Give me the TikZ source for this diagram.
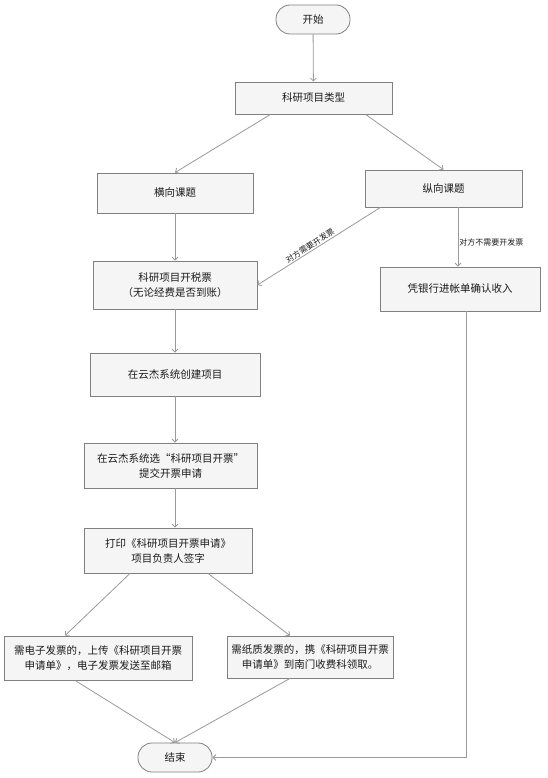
\documentclass[tikz,border=0pt]{standalone}
\usepackage{fontspec}
\setmainfont{Noto Sans CJK SC}
\usetikzlibrary{arrows.meta}

\definecolor{flowcolor0001}{RGB}{245,245,245}
\definecolor{flowcolor0002}{RGB}{128,128,128}
\definecolor{flowcolor0003}{RGB}{153,153,153}
\definecolor{flowcolor0004}{RGB}{26,26,26}

\begin{document}
\begin{tikzpicture}[yscale=-1
,pstyle0/.style={draw=flowcolor0002,fill=flowcolor0001,line width=0.8pt,rounded corners=14pt,minimum width=74pt,minimum height=29pt,font=\fontsize{10.5pt}{15pt}\selectfont,text=flowcolor0004}
,pstyle1/.style={draw=flowcolor0002,fill=flowcolor0001,line width=0.8pt,align=center,inner sep=1pt,font=\fontsize{10.5pt}{15pt}\selectfont,text=flowcolor0004}
,pstyle2/.style={draw=flowcolor0003,line width=0.8pt,-{Straight Barb[length=3pt,width=6pt]}}
,pstyle3/.style={font=\fontsize{8pt}{10pt}\selectfont,text=flowcolor0004,inner sep=1pt}
]
\useasboundingbox (0pt,0pt) rectangle (548pt,778pt);
\node[pstyle0] (start) at (313pt,19.5pt) {开始};
\node[pstyle1,minimum width=157pt,minimum height=32pt] (type) at (313.5pt,98pt) {科研项目类型};
\node[pstyle1,minimum width=156pt,minimum height=40pt] (hx) at (175pt,193pt) {横向课题};
\node[pstyle1,minimum width=157pt,minimum height=37pt] (zx) at (443.5pt,188.5pt) {纵向课题};
\node[pstyle1,minimum width=164pt,minimum height=48pt] (kp) at (175pt,285pt) {科研项目开税票\\（无论经费是否到账）};
\node[pstyle1,minimum width=160pt,minimum height=44pt] (pz) at (460pt,289pt) {凭银行进帐单确认收入};
\node[pstyle1,minimum width=170pt,minimum height=43pt] (cj) at (175pt,374.5pt) {在云杰系统创建项目};
\node[pstyle1,minimum width=173pt,minimum height=45pt] (xz) at (170.5pt,465.5pt) {在云杰系统选“科研项目开票”\\提交开票申请};
\node[pstyle1,minimum width=168pt,minimum height=45pt] (dy) at (168pt,550.5pt) {打印《科研项目开票申请》\\项目负责人签字};
\node[pstyle1,minimum width=188pt,minimum height=44pt] (dz) at (98pt,658pt) {需电子发票的，上传《科研项目开票\\申请单》，电子发票发送至邮箱};
\node[pstyle1,minimum width=166pt,minimum height=42pt] (zz) at (310pt,657pt) {需纸质发票的，携《科研项目开票\\申请单》到南门收费科领取。};
\node[pstyle0] (end) at (175pt,757.5pt) {结束};
\coordinate (zr) at ([xshift=14.5pt]zx.south);
\draw[pstyle2] (start) -- (type);
\draw[pstyle2] ([xshift=-43pt]type.south) -- (hx.north);
\draw[pstyle2] ([xshift=52pt]type.south) -- (zx.north);
\draw[pstyle2] (hx) -- (kp);
\draw[pstyle2] ([xshift=-63pt]zx.south) -- node[pstyle3,rotate=33,anchor=south,pos=0.55]{对方需要开发票} (kp.east);
\draw[pstyle2] (zr) -- node[pstyle3,right,pos=0.6]{对方不需要开发票} (zr |- pz.north);
\draw[pstyle2] (kp) -- (cj);
\draw[pstyle2] (cj) -- (cj |- xz.north);
\draw[pstyle2] (cj |- xz.south) -- (cj |- dy.north);
\draw[pstyle2] ([xshift=-38pt]dy.south) -- ([xshift=-33pt]dz.north);
\draw[pstyle2] ([xshift=40pt]dy.south) -- ([xshift=-20pt]zz.north);
\draw[pstyle2] ([xshift=-23pt]dz.south) -- (end.north);
\draw[pstyle2] ([xshift=-20pt]zz.south) -- (end.north);
\draw[pstyle2] ([xshift=6pt]pz.south) |- (end.east);
\end{tikzpicture}
\end{document}
